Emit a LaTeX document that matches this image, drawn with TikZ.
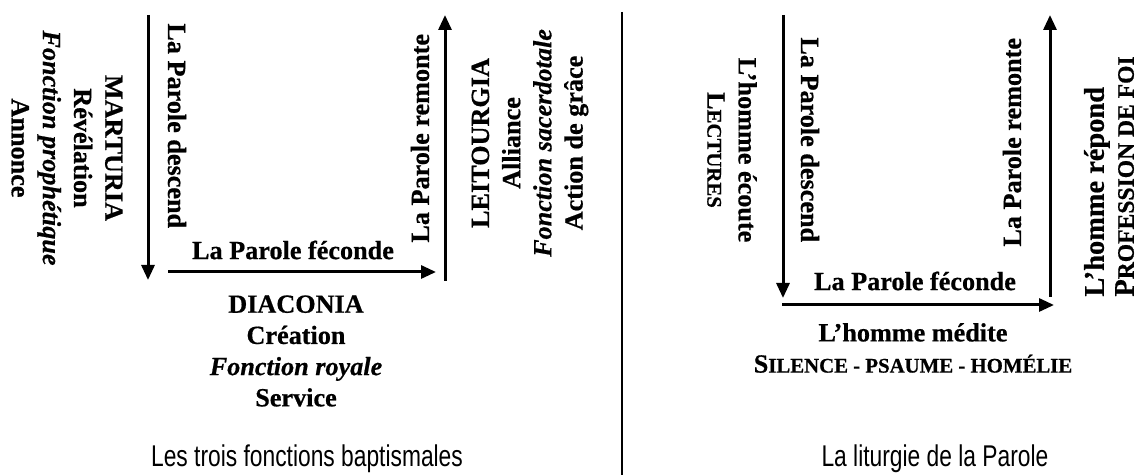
\documentclass[tikz,border=0pt]{standalone}
\usepackage{fontspec}
\setmainfont{Liberation Serif}[BoldFeatures={FakeBold=0.6},BoldItalicFeatures={FakeBold=0.6}]
\newfontfamily\capfont[FakeStretch=0.76]{Liberation Sans}
\usetikzlibrary{arrows.meta}
\newcommand\fakesc[2]{#1{\fontsize{10.4}{12}\selectfont #2}}
\newcommand\fakescbig[2]{#1{\fontsize{11.8}{14}\selectfont #2}}
\begin{document}
\begin{tikzpicture}[x=0.5pt,y=-0.5pt,
  arr/.style={line width=1.5pt,-{Triangle[length=7.5pt,width=6.5pt]}},
  lbl/.style={font=\fontsize{13.1}{15.6}\selectfont\bfseries,inner sep=0pt,align=center},
  lblbig/.style={font=\fontsize{14.2}{15}\selectfont\bfseries,inner sep=0pt},
  capt/.style={font=\capfont\fontsize{15}{18}\selectfont,inner sep=0pt},
  sep/.style={line width=0.75pt}]
\useasboundingbox (0,0) rectangle (1137,475);
% ---------- left diagram ----------
\coordinate (ld1) at (148,15);
\coordinate (ld2) at (148,280);
\coordinate (lh1) at (168,272);
\coordinate (lh2) at (436,272);
\coordinate (lu1) at (445,281);
\coordinate (lu2) at (445,15);
\draw[arr] (ld1) -- (ld2);
\draw[arr] (lh1) -- (lh2);
\draw[arr] (lu1) -- (lu2);
\node[lbl,rotate=-90,anchor=west] (ldesc) at (177,23) {La Parole descend};
\node[lbl,rotate=90,anchor=west] (lrem) at (420,243) {La Parole remonte};
\node[lbl] (lfec) at (293,250) {La Parole féconde};
\node[lbl,rotate=-90] (mart) at (67,148) {MARTURIA\\Révélation\\\textit{Fonction prophétique}\\Annonce};
\node[lbl,rotate=90] (leit) at (530,143) {LEITOURGIA\\Alliance\\\textit{Fonction sacerdotale}\\Action de grâce};
\node[lbl] (diac) at (296,351) {DIACONIA\\Création\\\textit{Fonction royale}\\Service};
\node[capt,anchor=base] (lcap) at (307,467) {Les trois fonctions baptismales};
% ---------- separator ----------
\coordinate (s1) at (622,12);
\coordinate (s2) at (622,475);
\draw[sep] (s1) -- (s2);
% ---------- right diagram ----------
\coordinate (rd1) at (783,15);
\coordinate (rd2) at (783,298);
\coordinate (rh1) at (782,305);
\coordinate (rh2) at (1054,305);
\coordinate (ru1) at (1050,297);
\coordinate (ru2) at (1050,15);
\draw[arr] (rd1) -- (rd2);
\draw[arr] (rh1) -- (rh2);
\draw[arr] (ru1) -- (ru2);
\node[lbl,rotate=-90,anchor=west] (rdesc) at (810,37) {La Parole descend};
\node[lbl,rotate=90,anchor=west] (rrem) at (1012,247) {La Parole remonte};
\node[lbl] (rfec) at (915,281) {La Parole féconde};
\node[lbl,rotate=-90] (ecoute) at (732,150) {L’homme écoute\\\fakesc{L}{ECTURES}};
\node[lblbig,rotate=90,anchor=west,align=left] (repond) at (1109,297) {L’homme répond\\\fakescbig{P}{ROFESSION DE FOI}};
\node[lbl] (medite) at (913,348) {L’homme médite\\\fakesc{S}{ILENCE - PSAUME - HOMÉLIE}};
\node[capt,anchor=base] (rcap) at (935,467) {La liturgie de la Parole};
\end{tikzpicture}
\end{document}
